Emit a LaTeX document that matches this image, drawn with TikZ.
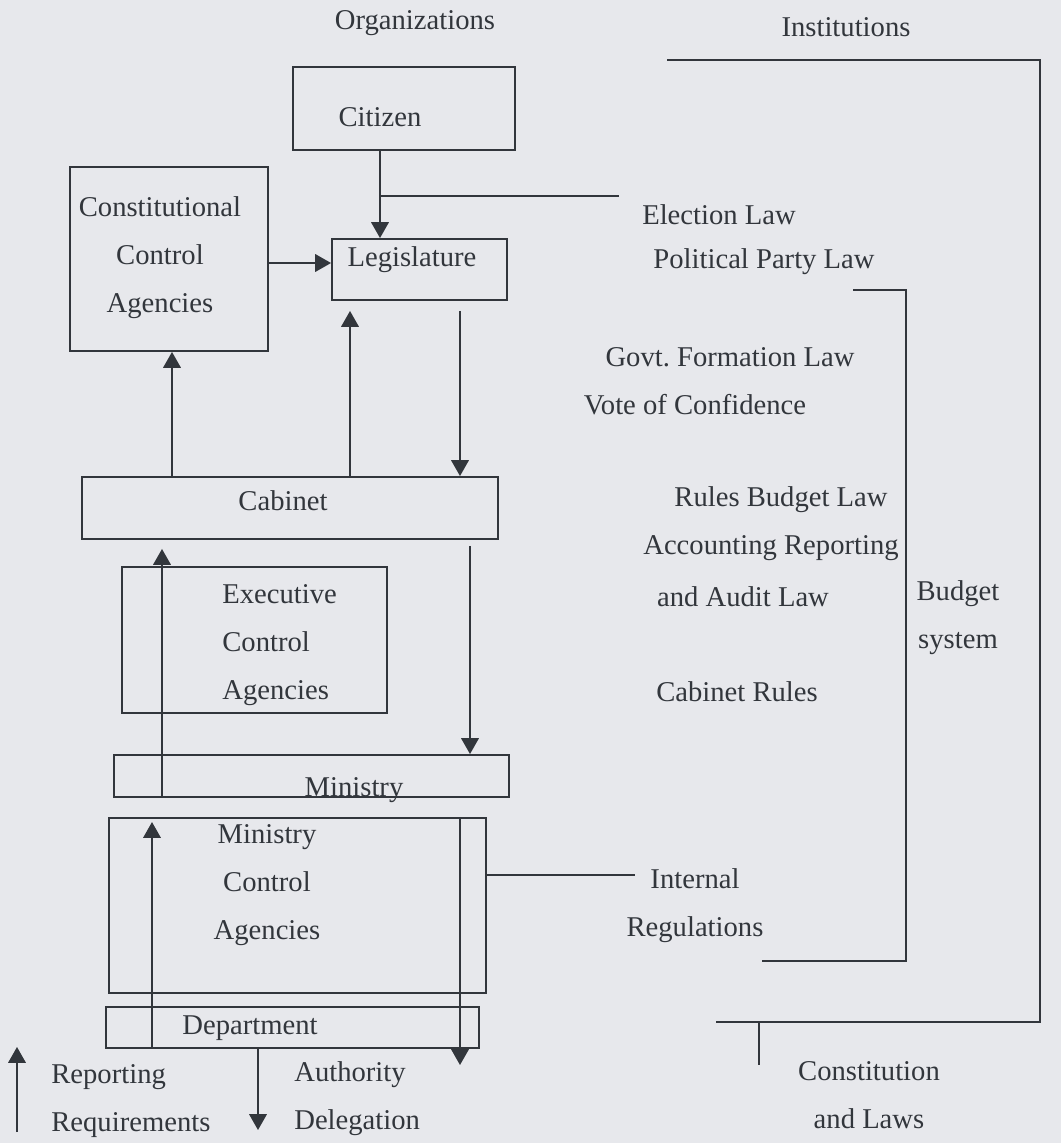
\documentclass[tikz,border=0pt]{standalone}
\usepackage{fontspec}
\setmainfont{Liberation Serif}
\usepackage{tikz}
\usetikzlibrary{arrows.meta}
\definecolor{paper}{RGB}{231,232,236}
\definecolor{ink}{RGB}{50,54,60}
\tikzset{
  box/.style={draw=ink,line width=1.1pt,inner sep=0pt},
  lbl/.style={text=ink,inner sep=0pt,align=center,font=\fontsize{16.3pt}{27.3pt}\selectfont},
  arr/.style={draw=ink,line width=0.9pt,-{Triangle[length=9pt,width=10pt]}},
  ln/.style={draw=ink,line width=0.9pt}
}

\begin{document}
\begin{tikzpicture}[x=0.02cm,y=-0.02cm]
\fill[paper] (0,0) rectangle (1061,1143);
% organizations
\node[box,minimum width=4.44cm,minimum height=1.66cm] (cit) at (404,108.5) {};
\node[box,minimum width=3.96cm,minimum height=3.68cm] (cca) at (169,259) {};
\node[box,minimum width=3.5cm,minimum height=1.22cm] (leg) at (419.5,269.5) {};
\node[box,minimum width=8.32cm,minimum height=1.24cm] (cab) at (290,508) {};
\node[box,minimum width=5.3cm,minimum height=2.92cm] (eca) at (254.5,640) {};
\node[box,minimum width=7.9cm,minimum height=0.84cm] (min) at (311.5,776) {};
\node[box,minimum width=7.54cm,minimum height=3.5cm] (mca) at (297.5,905.5) {};
\node[box,minimum width=7.46cm,minimum height=0.82cm] (dep) at (292.5,1027.5) {};
\node[lbl] (citT) at (380,117) {Citizen};
\node[lbl] (ccaT) at (160,258) {Constitutional\\Control\\Agencies};
\node[lbl] (legT) at (412,260) {Legislature};
\node[lbl] (cabT) at (283,501) {Cabinet};
\node[lbl,align=left,anchor=west] (ecaT) at (222,645) {Executive\\Control\\Agencies};
\node[lbl] (minT) at (354,790) {Ministry};
\node[lbl] (mcaT) at (267,885) {Ministry\\Control\\Agencies};
\node[lbl] (depT) at (250,1028) {Department};
% institutions
\node[lbl] (orgT) at (415,23) {Organizations};
\node[lbl] (insT) at (846,27) {Institutions};
\node[lbl] (elT) at (719,215) {Election Law};
\node[lbl] (ppT) at (764,262) {Political Party Law};
\node[lbl] (gfT) at (730,357) {Govt.\ Formation Law};
\node[lbl] (vcT) at (695,405) {Vote of Confidence};
\node[lbl] (rbT) at (781,500) {Rules Budget Law};
\node[lbl] (arT) at (771,548) {Accounting Reporting};
\node[lbl] (alT) at (743,597) {and Audit Law};
\node[lbl] (crT) at (737,692) {Cabinet Rules};
\node[lbl] (bsT) at (958,618) {Budget\\system};
\node[lbl] (irT) at (695,906) {Internal\\Regulations};
\node[lbl] (clT) at (869,1095) {Constitution\\and Laws};
% legend
\node[lbl,align=left,anchor=west] (repT) at (51,1101) {Reporting\\Requirements};
\node[lbl,align=left,anchor=west] (delT) at (294,1099) {Authority\\Delegation};
\coordinate (elA) at (380,196); \coordinate (elB) at (619,196);
\coordinate (dtip) at (460,1065); \coordinate (atip) at (258,1130);
\coordinate (rA) at (17,1132); \coordinate (rB) at (17,1047);
\coordinate (irA) at (635,875);
\coordinate (ot1) at (667,60); \coordinate (ot2) at (1040,60);
\coordinate (ob1) at (716,1022); \coordinate (ob2) at (1040,1022);
\coordinate (tk1) at (759,1022); \coordinate (tk2) at (759,1065);
\coordinate (it1) at (853,290); \coordinate (it2) at (906,290);
\coordinate (ib1) at (762,961); \coordinate (ib2) at (906,961);
% arrows
\draw[arr] (citT |- cit.south) -- (citT |- leg.north);
\draw[ln] (elA) -- (elB);
\draw[arr] (cca.east |- 0,263) -- (leg.west |- 0,263);
\draw[arr] (172,0 |- cab.north) -- (172,0 |- cca.south);
\draw[arr,shorten >=0.2cm] (350,0 |- cab.north) -- (350,0 |- leg.south);
\draw[arr,shorten <=0.2cm] (460,0 |- leg.south) -- (460,0 |- cab.north);
\draw[arr,shorten <=0.12cm] (470,0 |- cab.south) -- (470,0 |- min.north);
\draw[arr,shorten >=0.18cm] (162,0 |- min.south) -- (162,0 |- cab.south);
\draw[arr,shorten >=0.1cm] (152,0 |- dep.south) -- (152,0 |- mca.north);
\draw[arr] (460,0 |- mca.north) -- (dtip);
\draw[ln] (mca.east |- irA) -- (irA);
\draw[arr] (258,0 |- dep.south) -- (atip);
\draw[arr] (rA) -- (rB);
% brackets
\draw[ln] (ot1) -- (ot2) -- (ob2) -- (ob1);
\draw[ln] (tk1) -- (tk2);
\draw[ln] (it1) -- (it2) -- (ib2) -- (ib1);
\end{tikzpicture}
\end{document}
